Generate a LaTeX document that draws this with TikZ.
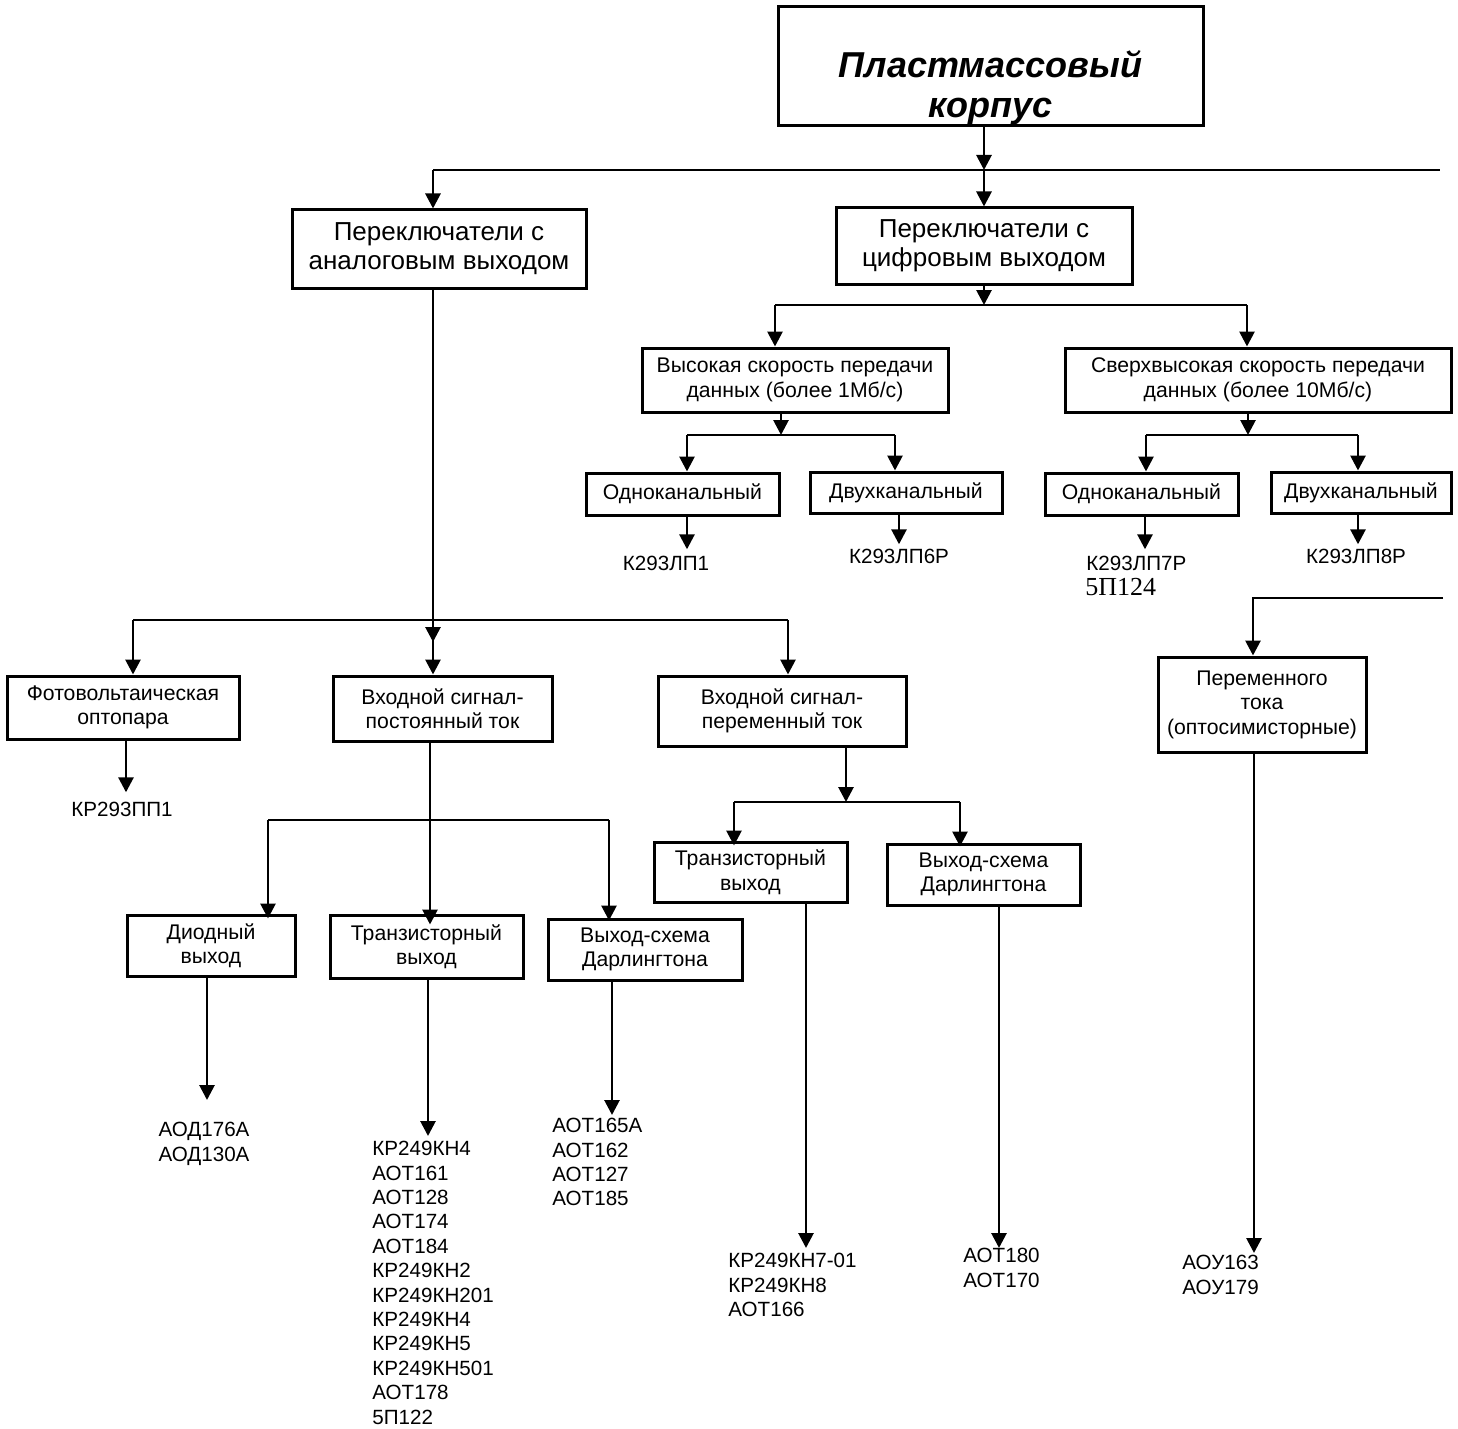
\documentclass[tikz,border=0pt]{standalone}
\usepackage{fontspec}
\setmainfont{Liberation Sans}
\newfontfamily\timesfont{Liberation Serif}
\usepackage{tikz}
\usetikzlibrary{calc,positioning,arrows.meta}

\begin{document}
\begin{tikzpicture}[x=0.5pt,y=-0.5pt,
  sz/.style 2 args={minimum width=#1*0.5pt,minimum height=#2*0.5pt},
  box/.style={draw,line width=1.5pt,inner sep=0pt,align=center,font=\fontsize{10.6}{12.25}\selectfont},
  bigbox/.style={box,font=\fontsize{13}{14.5}\selectfont},
  lst/.style={inner sep=0pt,align=left,anchor=north west,font=\fontsize{10.3}{12.2}\selectfont},
  lbl/.style={inner sep=0pt,font=\fontsize{10.3}{12.2}\selectfont},
  ln/.style={line width=1.4pt},
  arr/.style={ln,-{Triangle[length=7.5pt,width=7.5pt]}}]
\useasboundingbox (0,0) rectangle (1458,1429);

\node[box,sz={425}{119}] (korpus) at (990.5,66.5) {};
\node[inner sep=0pt,align=center,font=\fontsize{18}{20}\selectfont\bfseries\itshape] (korpustxt) at (990.5,88) {Пластмассовый\\корпус};

\node[bigbox,sz={294}{78}] (analog) at (439,249) {Переключатели с\\аналоговым выходом};
\node[bigbox,sz={296}{76}] (digital) at (984,246) {Переключатели с\\цифровым выходом};
\node[box,sz={306}{64}] (fast) at (795,380) {Высокая скорость передачи\\данных (более 1Мб/с)};
\node[box,sz={386}{64}] (ultra) at (1258,380) {Сверхвысокая скорость передачи\\данных (более 10Мб/с)};
\node[box,sz={193}{42}] (fastone) at (682.5,494) {Одноканальный};
\node[box,sz={192}{41}] (fasttwo) at (906,492.5) {Двухканальный};
\node[box,sz={193}{42}] (ultraone) at (1141.5,494) {Одноканальный};
\node[box,sz={180}{41}] (ultratwo) at (1361,492.5) {Двухканальный};
\node[box,sz={232}{63}] (photo) at (123,707.5) {Фотовольтаическая\\оптопара};
\node[box,sz={219}{65}] (dc) at (442.5,708.5) {Входной сигнал-\\постоянный ток};
\node[box,sz={248}{70}] (ac) at (782,711) {Входной сигнал-\\переменный ток};
\node[box,sz={208}{95}] (triac) at (1262,704.5) {Переменного\\тока\\(оптосимисторные)};
\node[box,sz={168}{61}] (diode) at (211,945.5) {Диодный\\выход};
\node[box,sz={193}{63}] (dctr) at (426.5,946.5) {Транзисторный\\выход};
\node[box,sz={194}{61}] (dcdarl) at (645,949.5) {Выход-схема\\Дарлингтона};
\node[box,sz={193}{60}] (actr) at (750.5,872) {Транзисторный\\выход};
\node[box,sz={193}{61}] (acdarl) at (983.5,874.5) {Выход-схема\\Дарлингтона};

\node[lbl] (lpone) at (666,563) {К293ЛП1};
\node[lbl] (lpsix) at (899,556) {К293ЛП6Р};
\node[lbl,anchor=west] (lpseven) at (1086,563) {К293ЛП7Р};
\node[inner sep=0pt,anchor=west,font=\timesfont\fontsize{13}{15}\selectfont] (lpsevenb) at (1085,587) {5П124};
\node[lbl] (lpeight) at (1356,556) {К293ЛП8Р};
\node[lbl] (pp) at (122,809) {КР293ПП1};
\node[lst,anchor=north,align=center] (diodel) at (204,1122) {АОД176А\\АОД130А};
\node[lst] (dctrl) at (372,1141) {КР249КН4\\АОТ161\\АОТ128\\АОТ174\\АОТ184\\КР249КН2\\КР249КН201\\КР249КН4\\КР249КН5\\КР249КН501\\АОТ178\\5П122};
\node[lst] (dcdarll) at (552,1118) {АОТ165А\\АОТ162\\АОТ127\\АОТ185};
\node[lst] (actrl) at (728,1253) {КР249КН7-01\\КР249КН8\\АОТ166};
\node[lst] (acdarll) at (963,1248) {АОТ180\\АОТ170};
\node[lst] (triacl) at (1182,1255) {АОУ163\\АОУ179};

\coordinate (j0) at (984,170);
\coordinate (topend) at (1440,170);
\draw[arr] (korpus.south -| j0) -- (j0);
\draw[ln] ([xshift=-3pt]analog.north |- j0) -- (topend);
\draw[arr] (j0) -- (digital.north);
\draw[arr] ([xshift=-3pt]analog.north |- j0) -- ([xshift=-3pt]analog.north);

\coordinate (j1) at (984,305);
\draw[arr] (digital.south) -- (j1);
\draw[ln] ([xshift=-10pt]fast.north |- j1) -- ([xshift=-5.5pt]ultra.north |- j1);
\draw[arr] ([xshift=-10pt]fast.north |- j1) -- ([xshift=-10pt]fast.north);
\draw[arr] ([xshift=-5.5pt]ultra.north |- j1) -- ([xshift=-5.5pt]ultra.north);

\coordinate (j2) at (781,435);
\draw[arr] ([xshift=-7pt]fast.south) -- (j2);
\draw[ln] ([xshift=2.25pt]fastone.north |- j2) -- ([xshift=-5.5pt]fasttwo.north |- j2);
\draw[arr] ([xshift=2.25pt]fastone.north |- j2) -- ([xshift=2.25pt]fastone.north);
\draw[arr] ([xshift=-5.5pt]fasttwo.north |- j2) -- ([xshift=-5.5pt]fasttwo.north);
\coordinate (j3) at (1248,435);
\draw[arr] ([xshift=-5pt]ultra.south) -- (j3);
\draw[ln] ([xshift=2.25pt]ultraone.north |- j3) -- ([xshift=-1.5pt]ultratwo.north |- j3);
\draw[arr] ([xshift=2.25pt]ultraone.north |- j3) -- ([xshift=2.25pt]ultraone.north);
\draw[arr] ([xshift=-1.5pt]ultratwo.north |- j3) -- ([xshift=-1.5pt]ultratwo.north);

\draw[arr,shorten >=3pt] ([xshift=2.25pt]fastone.south) -- ([xshift=2.25pt]fastone.south |- lpone.north);
\draw[arr,shorten >=2pt] ([xshift=-3.5pt]fasttwo.south) -- ([xshift=-3.5pt]fasttwo.south |- lpsix.north);
\draw[arr,shorten >=3pt] ([xshift=1.75pt]ultraone.south) -- ([xshift=1.75pt]ultraone.south |- lpseven.north);
\draw[arr,shorten >=2pt] ([xshift=-1.5pt]ultratwo.south) -- ([xshift=-1.5pt]ultratwo.south |- lpeight.north);

\coordinate (rbus) at (1443,598);
\draw[arr] (rbus) -- ([xshift=-4.5pt]triac.north |- rbus) -- ([xshift=-4.5pt]triac.north);
\draw[arr,shorten >=1pt] ([xshift=-4pt]triac.south) -- ([xshift=-4pt]triac.south |- triacl.north);

\coordinate (j4) at (433,620);
\coordinate (atip) at (433,642);
\draw[arr] ([xshift=-3pt]analog.south) -- (atip);
\draw[ln] ([xshift=5pt]photo.north |- j4) -- ([xshift=3pt]ac.north |- j4);
\draw[arr] ([xshift=5pt]photo.north |- j4) -- ([xshift=5pt]photo.north);
\draw[arr] ([xshift=-4.75pt]dc.north |- j4) -- ([xshift=-4.75pt]dc.north);
\draw[arr] ([xshift=3pt]ac.north |- j4) -- ([xshift=3pt]ac.north);
\draw[arr,shorten >=4.5pt] ([xshift=1.5pt]photo.south) -- ([xshift=1.5pt]photo.south |- pp.north);

\coordinate (j5) at (430,820);
\draw[arr,shorten >=-5.5pt] ([xshift=-6.25pt]dc.south) -- ([xshift=-6.25pt]dc.south |- dctr.north);
\draw[ln] ([xshift=28.5pt]diode.north |- j5) -- ([xshift=-18pt]dcdarl.north |- j5);
\draw[arr,shorten >=-2.5pt] ([xshift=28.5pt]diode.north |- j5) -- ([xshift=28.5pt]diode.north);
\draw[arr,shorten >=-1.5pt] ([xshift=-18pt]dcdarl.north |- j5) -- ([xshift=-18pt]dcdarl.north);
\draw[arr,shorten >=11pt] ([xshift=-2pt]diode.south) -- ([xshift=-2pt]diode.south |- diodel.north);
\draw[arr,shorten >=2.5pt] ([xshift=0.75pt]dctr.south) -- ([xshift=0.75pt]dctr.south |- dctrl.north);
\draw[arr,shorten >=1.5pt] ([xshift=-16.5pt]dcdarl.south) -- ([xshift=-16.5pt]dcdarl.south |- dcdarll.north);

\coordinate (j6) at (846,802);
\draw[arr] ([xshift=32pt]ac.south) -- (j6);
\draw[ln] ([xshift=-8.25pt]actr.north |- j6) -- ([xshift=-11.75pt]acdarl.north |- j6);
\draw[arr,shorten >=-2.5pt] ([xshift=-8.25pt]actr.north |- j6) -- ([xshift=-8.25pt]actr.north);
\draw[arr,shorten >=-2pt] ([xshift=-11.75pt]acdarl.north |- j6) -- ([xshift=-11.75pt]acdarl.north);
\draw[arr,shorten >=2.5pt] ([xshift=27.75pt]actr.south) -- ([xshift=27.75pt]actr.south |- actrl.north);
\draw[arr] ([xshift=7.75pt]acdarl.south) -- ([xshift=7.75pt]acdarl.south |- acdarll.north);
\end{tikzpicture}
\end{document}
